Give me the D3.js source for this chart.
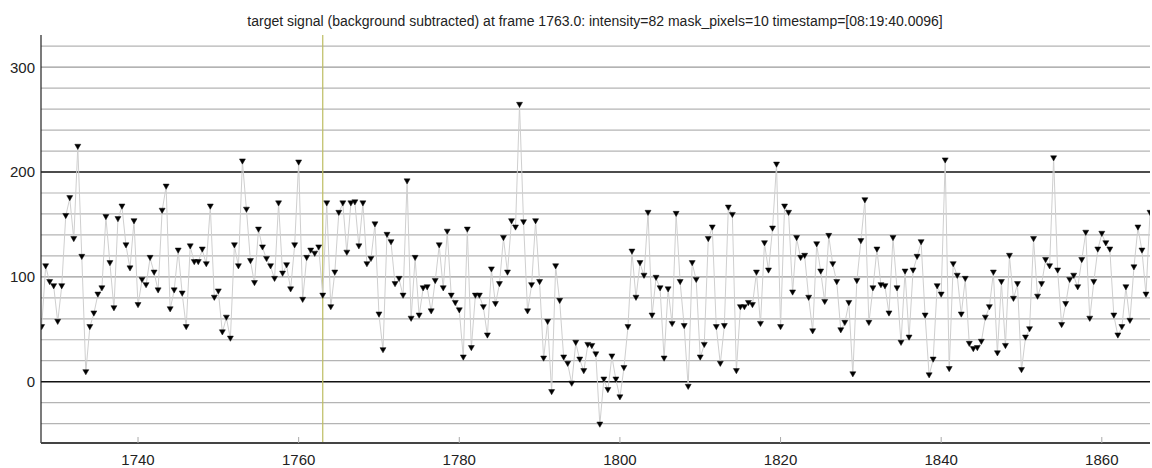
<!DOCTYPE html>
<html lang="en">
<head>
<meta charset="utf-8">
<title>target signal</title>
<style>
  body { margin: 0; background: #fff; }
  svg { display: block; font-family: "Liberation Sans", Arial, sans-serif; }
</style>
</head>
<body>
<script src="https://cdnjs.cloudflare.com/ajax/libs/d3/7.8.5/d3.min.js"></script>
<script>
const titleText = "target signal (background subtracted) at frame 1763.0: intensity=82 mask_pixels=10 timestamp=[08:19:40.0096]";
const firstFrame = 1728;
const frameStep = 0.5;
const currentFrame = 1763;

// one value per half frame
const intensity = [
  52, 110, 95, 91, 57, 91, 158, 175, 136, 224,
  119, 9, 52, 65, 83, 89, 157, 113, 70, 155,
  167, 130, 108, 153, 73, 97, 92, 118, 104, 87,
  163, 186, 69, 87, 125, 84, 52, 129, 114, 114,
  126, 112, 167, 80, 86, 47, 61, 41, 130, 110,
  210, 164, 115, 94, 145, 128, 117, 110, 98, 170,
  103, 111, 88, 130, 209, 78, 118, 125, 122, 128,
  82, 170, 71, 104, 161, 170, 123, 170, 171, 129,
  170, 112, 117, 150, 64, 30, 140, 133, 93, 98,
  82, 191, 60, 118, 63, 89, 90, 67, 96, 130,
  89, 143, 82, 75, 68, 23, 145, 32, 82, 82,
  71, 44, 107, 74, 93, 137, 104, 153, 147, 264,
  152, 67, 92, 153, 95, 22, 57, -10, 110, 77,
  23, 17, -2, 37, 21, 10, 35, 34, 26, -41,
  2, -8, 24, 2, -15, 13, 52, 124, 80, 113,
  101, 161, 63, 99, 89, 22, 88, 55, 160, 95,
  53, -5, 113, 97, 23, 35, 136, 147, 52, 17,
  53, 166, 159, 10, 71, 71, 75, 73, 104, 55,
  132, 106, 146, 207, 52, 167, 161, 85, 137, 118,
  120, 80, 48, 131, 105, 76, 139, 112, 95, 49,
  56, 75, 7, 96, 134, 173, 56, 89, 126, 92,
  91, 65, 137, 89, 37, 105, 42, 106, 119, 133,
  63, 6, 21, 91, 83, 211, 12, 112, 101, 64,
  98, 36, 31, 32, 38, 61, 71, 104, 27, 95,
  34, 120, 79, 93, 11, 42, 50, 136, 81, 93,
  116, 110, 213, 106, 54, 74, 97, 101, 90, 116,
  142, 60, 95, 126, 141, 132, 126, 63, 44, 52,
  90, 58, 109, 147, 125, 83, 161
];
const xTickValues = [1740, 1760, 1780, 1800, 1820, 1840, 1860];
const yTickValues = [0, 100, 200, 300];
const yGridValues = [-40, -20, 0, 20, 40, 60, 80, 100, 120, 140, 160, 180, 200, 220, 240, 260, 280, 300, 320];

const width = 1152;
const height = 468;
const plot = { left: 41, right: 1150, top: 35, bottom: 443 };

const points = intensity.map((v, i) => ({ frame: firstFrame + i * frameStep, value: v }));

const x = d3.scaleLinear()
  .domain([1727.92, 1866.0])
  .range([plot.left, plot.right]);

const y = d3.scaleLinear()
  .domain([-58.5, 330.7])
  .range([plot.bottom, plot.top]);

const svg = d3.select("body")
  .append("svg")
  .attr("width", width)
  .attr("height", height);

svg.append("defs")
  .append("clipPath")
  .attr("id", "plot-clip")
  .append("rect")
  .attr("x", plot.left)
  .attr("y", plot.top)
  .attr("width", plot.right - plot.left)
  .attr("height", plot.bottom - plot.top);

svg.append("text")
  .attr("x", 595)
  .attr("y", 26)
  .attr("text-anchor", "middle")
  .attr("font-size", "14px")
  .attr("fill", "#222")
  .text(titleText);

// horizontal grid
svg.append("g")
  .selectAll("line")
  .data(yGridValues)
  .enter()
  .append("line")
  .attr("x1", plot.left)
  .attr("x2", plot.right)
  .attr("y1", d => y(d))
  .attr("y2", d => y(d))
  .attr("stroke", d => (d % 200 === 0) ? "#111" : (d % 100 === 0 ? "#9a9a9a" : "#b4b4b4"))
  .attr("stroke-width", d => (d % 200 === 0) ? 1.5 : 1.2);

const body = svg.append("g").attr("clip-path", "url(#plot-clip)");

// current frame marker
body.append("line")
  .attr("x1", x(currentFrame))
  .attr("x2", x(currentFrame))
  .attr("y1", plot.top)
  .attr("y2", plot.bottom)
  .attr("stroke", "#bdbd62")
  .attr("stroke-width", 1.2);

const line = d3.line()
  .x(d => x(d.frame))
  .y(d => y(d.value));

body.append("path")
  .datum(points)
  .attr("d", line)
  .attr("fill", "none")
  .attr("stroke", "#cfcfcf")
  .attr("stroke-width", 1);

const tri = "M-3,-2.6L3,-2.6L0,2.6Z";
body.append("g")
  .selectAll("path")
  .data(points)
  .enter()
  .append("path")
  .attr("d", tri)
  .attr("transform", d => `translate(${x(d.frame)},${y(d.value)})`)
  .attr("fill", "#000")
  .attr("stroke", "#111")
  .attr("stroke-width", 0.5);

// axes
svg.append("line")
  .attr("x1", plot.left)
  .attr("x2", plot.left)
  .attr("y1", plot.top)
  .attr("y2", plot.bottom)
  .attr("stroke", "#222")
  .attr("stroke-width", 1.2);

svg.append("line")
  .attr("x1", plot.left)
  .attr("x2", plot.right)
  .attr("y1", plot.bottom)
  .attr("y2", plot.bottom)
  .attr("stroke", "#444")
  .attr("stroke-width", 2);

svg.append("g")
  .selectAll("line")
  .data(xTickValues)
  .enter()
  .append("line")
  .attr("x1", d => x(d))
  .attr("x2", d => x(d))
  .attr("y1", plot.bottom - 6)
  .attr("y2", plot.bottom)
  .attr("stroke", "#aaa");

svg.append("g")
  .selectAll("text")
  .data(xTickValues)
  .enter()
  .append("text")
  .attr("x", d => x(d))
  .attr("y", 465)
  .attr("text-anchor", "middle")
  .attr("font-size", "15px")
  .attr("fill", "#222")
  .text(d => d);

svg.append("g")
  .selectAll("text")
  .data(yTickValues)
  .enter()
  .append("text")
  .attr("x", 35)
  .attr("y", d => y(d))
  .attr("dy", "0.36em")
  .attr("text-anchor", "end")
  .attr("font-size", "15px")
  .attr("fill", "#222")
  .text(d => d);
</script>
</body>
</html>
